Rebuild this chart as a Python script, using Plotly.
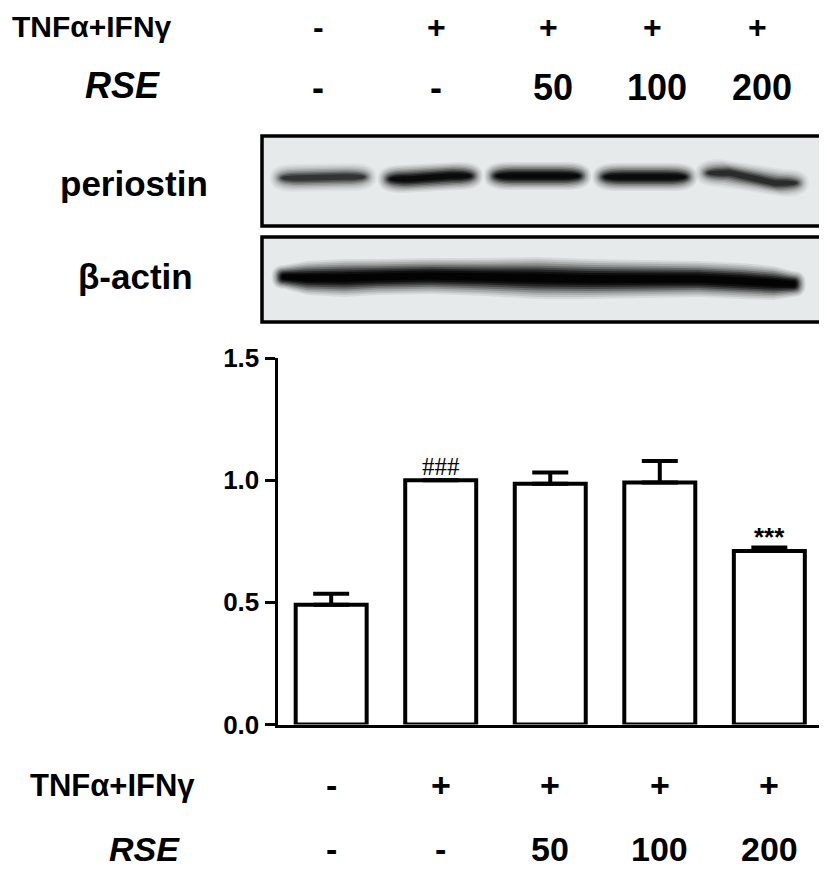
import plotly.graph_objects as go

# ---------------- data ----------------
groups = ["Control", "TNF+IFN", "RSE 50", "RSE 100", "RSE 200"]
ratio = [0.49, 1.00, 0.985, 0.99, 0.71]
sem = [0.045, 0.0, 0.046, 0.088, 0.014]
signif = ["", "###", "", "", "***"]
tnf_row = ["-", "+", "+", "+", "+"]
rse_row = ["-", "-", "50", "100", "200"]
y_ticks = [0.0, 0.5, 1.0, 1.5]
periostin_intensity = [0.55, 0.95, 1.0, 0.95, 0.6]
actin_intensity = 1.0

# the page places the figure 8 px from the top-left corner
OFF = 8
W, H = 827 - OFF, 871 - OFF
FONT = "Liberation Sans, Arial, sans-serif"


def px(x):
    return (x - OFF) / W


def py(y):
    return 1 - (y - OFF) / H


fig = go.Figure()

fig.add_trace(go.Bar(
    x=groups, y=ratio, width=0.648,
    marker=dict(color="white", line=dict(color="black", width=4)),
    error_y=dict(type="data", array=sem, arrayminus=[0] * len(sem), symmetric=False,
                 color="black", thickness=4, width=18),
    xaxis="x", yaxis="y", hoverinfo="skip",
))
fig.add_trace(go.Scatter(x=[None], y=[None], xaxis="x2", yaxis="y2", showlegend=False))
fig.add_trace(go.Scatter(x=[None], y=[None], xaxis="x3", yaxis="y3", showlegend=False))

shapes = []
annotations = []

LAYERS = list(zip([2.0, 1.8, 1.6, 1.4, 1.2, 1.0, 0.8, 0.6, 0.4],
                  [0.06, 0.08, 0.10, 0.14, 0.20, 0.28, 0.38, 0.50, 0.65]))


def band_path(cx, yl, yr, hw, hh, rx):
    x0, x1 = cx - hw, cx + hw
    return (f"M {x0},{yl} Q {x0},{yl - hh} {x0 + rx},{yl - hh} "
            f"L {x1 - rx},{yr - hh} Q {x1},{yr - hh} {x1},{yr} "
            f"Q {x1},{yr + hh} {x1 - rx},{yr + hh} "
            f"L {x0 + rx},{yl + hh} Q {x0},{yl + hh} {x0},{yl} Z")


def strip_path(xs, yc, hh, s, grow):
    top = [(x, y - h * s) for x, y, h in zip(xs, yc, hh)]
    bot = [(x, y + h * s) for x, y, h in zip(xs, yc, hh)]
    x0 = xs[0] - grow
    x1 = xs[-1] + grow
    p = f"M {x0},{yc[0]} Q {x0},{top[0][1]} {top[0][0]},{top[0][1]} "
    for x, y in top[1:]:
        p += f"L {x},{y} "
    p += f"Q {x1},{top[-1][1]} {x1},{yc[-1]} Q {x1},{bot[-1][1]} {bot[-1][0]},{bot[-1][1]} "
    for x, y in reversed(bot[:-1]):
        p += f"L {x},{y} "
    p += f"Q {x0},{bot[0][1]} {x0},{yc[0]} Z"
    return p


def frame(xr, yr, layer, fill, lw):
    shapes.append(dict(type="rect", xref=f"{xr} domain", yref=f"{yr} domain",
                       x0=0, x1=1, y0=0, y1=1, fillcolor=fill,
                       line=dict(width=lw, color="black"), layer=layer))


# periostin blot
frame("x2", "y2", "below", "#e6eaea", 0)
p_left = [42, 43, 40, 41, 37]
p_right = [41, 40, 40, 41, 47]
p_halfw = [0.43, 0.42, 0.43, 0.42, 0.46]
for i, inten in enumerate(periostin_intensity):
    for s, a in LAYERS:
        hw = p_halfw[i] + (s - 1) * 0.07
        shapes.append(dict(type="path", xref="x2", yref="y2",
                           path=band_path(i, p_left[i], p_right[i], hw, 7.0 * s, min(0.22, hw * 0.5)),
                           fillcolor="black", opacity=min(1, a * inten),
                           line=dict(width=0), layer="above"))
frame("x2", "y2", "above", "rgba(0,0,0,0)", 3.5)

# beta-actin blot (one continuous band)
frame("x3", "y3", "below", "#e6eaea", 0)
a_x = [-0.36, -0.15, 0.2, 0.5, 1.0, 1.5, 2.0, 2.5, 3.0, 3.5, 3.9, 4.2, 4.38]
a_y = [40, 41, 41, 40, 39, 40, 41, 42, 42, 42, 44, 46, 47]
a_h = [6, 8.5, 9.5, 9, 9, 9.5, 10.5, 10, 9.5, 9, 9, 8.5, 6.5]
for s, a in LAYERS:
    shapes.append(dict(type="path", xref="x3", yref="y3",
                       path=strip_path(a_x, a_y, a_h, s, 0.06 * s),
                       fillcolor="black", opacity=min(1, a * actin_intensity * 1.2),
                       line=dict(width=0), layer="above"))
frame("x3", "y3", "above", "rgba(0,0,0,0)", 3.5)

# significance marks
for g, v, e, s in zip(groups, ratio, sem, signif):
    if s:
        serif = s == "###"
        annotations.append(dict(
            x=g, y=v + e, xref="x", yref="y", text=s, showarrow=False,
            yanchor="bottom", yshift=-2 if serif else -6,
            font=dict(family="Liberation Serif, Times New Roman, serif" if serif else FONT,
                      size=25 if serif else 26, color="black",
                      weight="normal" if serif else "bold")))


def txt(text, x, y, size, xref="paper", italic=False):
    t = f"<i>{text}</i>" if italic else text
    annotations.append(dict(x=x, y=y, xref=xref, yref="paper", text=t, showarrow=False,
                            xanchor="center", yanchor="middle",
                            font=dict(family=FONT, size=size, color="black", weight="bold")))


# top rows
top_cols = [318, 436, 548, 652, 757]
txt("TNFα+IFNγ", px(92), py(26), 30)
txt("RSE", px(122), py(86), 36, italic=True)
for c, a, b in zip(top_cols, tnf_row, rse_row):
    txt(a, px(c), py(27), 32)
    txt(b, px(c + (5 if b != "-" else 0)), py(87), 36)

# blot labels
txt("periostin", px(134), py(183), 35)
txt("β-actin", px(135), py(276), 35)

# bottom rows
txt("TNFα+IFNγ", px(113), py(785), 31)
txt("RSE", px(144), py(849), 34, italic=True)
for g, a, b in zip(groups, tnf_row, rse_row):
    txt(a, g, py(785), 34, xref="x")
    txt(b, g, py(849), 34, xref="x")

fig.update_layout(
    template="none",
    width=W, height=H, margin=dict(l=0, r=0, t=0, b=0, pad=0, autoexpand=False),
    paper_bgcolor="white", plot_bgcolor="white", showlegend=False,
    xaxis=dict(domain=[px(277.5), px(823)], range=[-0.49, 4.49], anchor="y",
               showline=True, linecolor="black", linewidth=3, ticks="",
               showticklabels=False, showgrid=False, zeroline=False, automargin=False),
    yaxis=dict(domain=[py(724.5), py(358)], range=[0, 1.5], anchor="x",
               tickvals=y_ticks, tickformat=".1f", ticks="outside", ticklen=10,
               tickwidth=3, tickcolor="black", showline=True, linecolor="black",
               linewidth=3, showgrid=False, zeroline=False, automargin=False,
               tickfont=dict(family=FONT, size=26, color="black", weight="bold")),
    xaxis2=dict(domain=[px(262), px(824)], range=[-0.57, 4.67], anchor="y2", visible=False),
    yaxis2=dict(domain=[py(226), py(136)], range=[90, 0], anchor="x2", visible=False),
    xaxis3=dict(domain=[px(262), px(824)], range=[-0.57, 4.67], anchor="y3", visible=False),
    yaxis3=dict(domain=[py(322), py(237)], range=[85, 0], anchor="x3", visible=False),
    shapes=shapes, annotations=annotations,
)

fig.write_html("out.html")
